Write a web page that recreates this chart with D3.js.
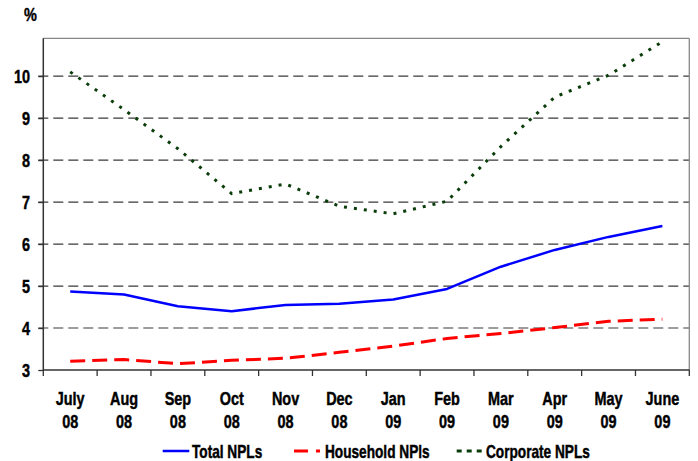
<!DOCTYPE html>
<html><head><meta charset="utf-8">
<script src="https://cdn.jsdelivr.net/npm/d3@7"></script>
<style>
body{margin:0;background:#fff;}
text{font-family:"Liberation Sans",Arial,sans-serif;font-weight:bold;fill:#000;stroke:#000;stroke-width:0.45px;}
</style></head><body>
<svg id="c" width="698" height="461"></svg>
<script>
const months = ["July 08","Aug 08","Sep 08","Oct 08","Nov 08","Dec 08","Jan 09","Feb 09","Mar 09","Apr 09","May 09","June 09"];
const totalNPL = [4.87,4.80,4.52,4.40,4.55,4.58,4.68,4.93,5.46,5.86,6.17,6.43];
const householdNPL = [3.21,3.25,3.15,3.23,3.28,3.42,3.57,3.75,3.87,4.01,4.16,4.21];
const corporateNPL = [10.1,9.2,8.27,7.2,7.43,6.9,6.72,7.02,8.32,9.5,10.02,10.82];
const yTicks = [3,4,5,6,7,8,9,10];
const seriesNames = ["Total NPLs","Household NPls","Corporate NPLs"];

const svg = d3.select("#c");
const L=43.3, R=689.3, T=38.3, B=370;
const SX = 0.78; // narrow-font emulation
const x = d3.scaleBand().domain(months).range([L,R]);
const y = d3.scaleLinear().domain([3,10.9]).range([B,T]);

function ntext(g, px, py, str, size, anchor){
  return g.append("text").attr("transform",`translate(${px},${py}) scale(${SX},1)`)
    .attr("font-size",size).attr("text-anchor",anchor||"start").text(str);
}

// grid lines
svg.append("g").selectAll("line").data(yTicks.filter(d=>d>3)).join("line")
  .attr("x1",L-5).attr("x2",R).attr("y1",d=>y(d)).attr("y2",d=>y(d))
  .attr("stroke","#3a3a3a").attr("stroke-width",1.2).attr("stroke-dasharray","10,5");

// border top/right
svg.append("line").attr("x1",L).attr("x2",R).attr("y1",T).attr("y2",T).attr("stroke","#888").attr("stroke-width",1.3);
svg.append("line").attr("x1",R).attr("x2",R).attr("y1",T).attr("y2",B).attr("stroke","#888").attr("stroke-width",1.3);

// y axis
const ya = svg.append("g").attr("transform",`translate(${L},0)`)
  .call(d3.axisLeft(y).tickValues(yTicks).tickSize(5).tickFormat(""));
ya.select(".domain").attr("stroke","#333").attr("stroke-width",1.5).attr("d",`M0,${T}V${B}`);
ya.selectAll(".tick line").attr("stroke","#333").attr("stroke-width",1.3);
yTicks.forEach(v=>ntext(svg, 30, y(v)+6.5, d3.format("d")(v), 18.5, "end"));

// x axis
const xa = svg.append("g").attr("transform",`translate(0,${B})`);
xa.append("line").attr("x1",L).attr("x2",R).attr("stroke","#333").attr("stroke-width",1.5);
const bounds = months.map(m=>x(m)).concat([R]);
xa.selectAll("line.tk").data(bounds).join("line").attr("class","tk")
  .attr("x1",d=>d).attr("x2",d=>d).attr("y1",0).attr("y2",6).attr("stroke","#333").attr("stroke-width",1.3);
months.forEach(m=>{
  const cxm = x(m)+x.bandwidth()/2;
  const parts = m.split(" ");
  ntext(xa, cxm, 35, parts[0], 18.5, "middle");
  ntext(xa, cxm, 57.5, parts[1], 18.5, "middle");
});

// % label
ntext(svg, 24, 21, "%", 18.5, "start");

const cx = (d,i)=>x(months[i])+x.bandwidth()/2;
const line = d3.line().x(cx).y(d=>y(d));

svg.append("path").datum(corporateNPL).attr("d",line).attr("fill","none")
  .attr("stroke","#0b3d0b").attr("stroke-width",3).attr("stroke-dasharray","3,7");
svg.append("path").datum(totalNPL).attr("d",line).attr("fill","none")
  .attr("stroke","#0000ff").attr("stroke-width",2.5).attr("stroke-linejoin","round");
svg.append("path").datum(householdNPL).attr("d",line).attr("fill","none")
  .attr("stroke","#ff0000").attr("stroke-width",3).attr("stroke-dasharray","15,7");

// legend
const legY = 451;
const leg = [
  {x1:162.7,x2:189.3,tx:192,color:"#0000ff",dash:null,w:2.5},
  {x1:294,x2:320,tx:325,color:"#ff0000",dash:"14,8",w:3},
  {x1:456.7,x2:482,tx:486,color:"#0b3d0b",dash:"5,5",w:3}
];
leg.forEach((l,i)=>{
  svg.append("line").attr("x1",l.x1).attr("x2",l.x2).attr("y1",legY).attr("y2",legY)
    .attr("stroke",l.color).attr("stroke-width",l.w).attr("stroke-dasharray",l.dash);
  ntext(svg, l.tx, 457.5, seriesNames[i], 17.5, "start");
});
</script></body></html>
